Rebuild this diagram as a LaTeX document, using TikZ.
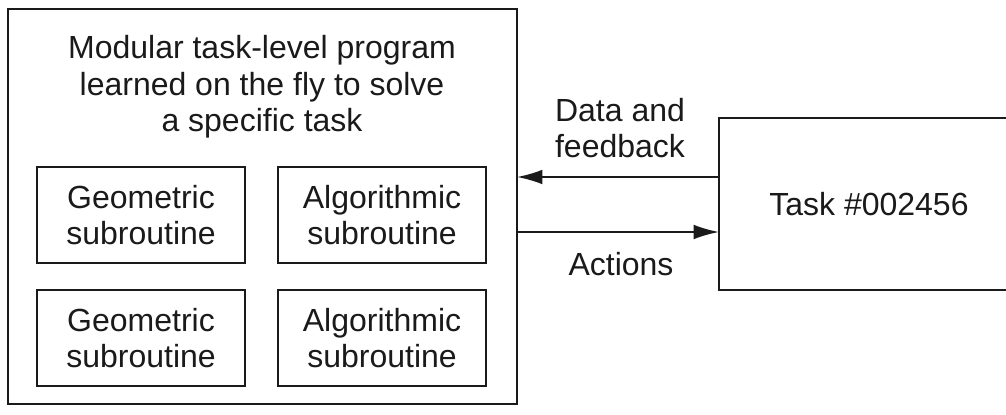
\documentclass[tikz,border=0pt]{standalone}
\usepackage{fontspec}
\setmainfont{Liberation Sans}
\usetikzlibrary{arrows.meta}
\definecolor{ink}{HTML}{1A1A1A}
\begin{document}
\begin{tikzpicture}[x=0.75pt,y=-0.75pt,
  every node/.style={font=\fontsize{24pt}{27.5pt}\selectfont, text=ink},
  box/.style={draw=ink, line width=1.5pt, inner sep=0pt, outer sep=0pt},
  subbox/.style={box, line width=1.3pt, minimum width=208*0.75pt, minimum height=96*0.75pt, align=center},
  flow/.style={draw=ink, line width=1.4pt, -{Latex[length=19pt,width=11pt]}}]
\useasboundingbox (0,0) rectangle (1006,414);
\begin{scope}
\clip (0,0) rectangle (1006,414);
\node[box, minimum width=509*0.75pt, minimum height=395*0.75pt] (outer) at (262.5,206.5) {};
\node[box, minimum width=300*0.75pt, minimum height=172*0.75pt] (task) at (869,204) {Task \#002456};
\end{scope}
\node[align=center] (title) at (262,87) {Modular task-level program\\learned on the fly to solve\\a specific task};
\node[subbox] (g1) at (141,215) {Geometric\\subroutine};
\node[subbox] (a1) at (382,215) {Algorithmic\\subroutine};
\node[subbox] (g2) at (141,338) {Geometric\\subroutine};
\node[subbox] (a2) at (382,338) {Algorithmic\\subroutine};
\draw[flow] ([yshift=20.25pt]task.west) -- ([yshift=20.25pt]task.west -| outer.east);
\draw[flow] ([yshift=-21pt]task.west -| outer.east) -- ([yshift=-21pt]task.west);
\node[align=center] (data) at (620,128) {Data and\\feedback};
\node (act) at (621,264) {Actions};
\end{tikzpicture}
\end{document}
